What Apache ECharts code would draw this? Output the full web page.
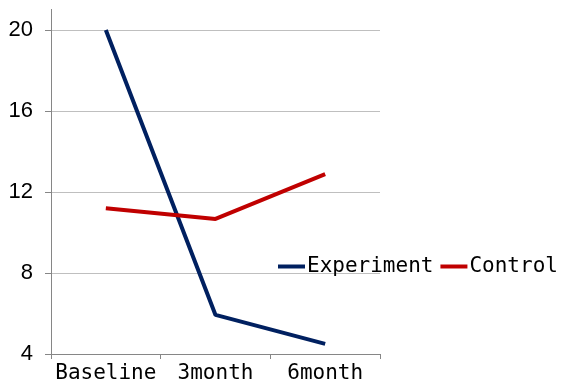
<!DOCTYPE html>
<html><head><meta charset="utf-8">
<script src="https://cdn.jsdelivr.net/npm/echarts@6/dist/echarts.min.js"></script>
<style>html,body{margin:0;padding:0;background:#fff}#c{width:561px;height:386px}</style>
</head><body><div id="c"></div>
<script>
const categories = ['Baseline', '3month', '6month'];
const experiment = [20, 5.93, 4.5];
const control = [11.2, 10.67, 12.88];
const yTicks = [4, 8, 12, 16, 20];

const chart = echarts.init(document.getElementById('c'), null, {renderer: 'canvas'});
chart.setOption({
  animation: false,
  backgroundColor: '#fff',
  grid: {left: 51, right: 181, top: 30, bottom: 32, containLabel: false},
  legend: {
    left: 278, top: 256, width: 400, orient: 'horizontal', padding: 0,
    icon: 'rect', itemWidth: 27, itemHeight: 4, itemGap: 7,
    textStyle: {fontFamily: 'DejaVu Sans Mono', fontSize: 21, color: '#000', padding: [0,0,0,-3]},
    data: ['Experiment', 'Control']
  },
  xAxis: {
    type: 'category', data: categories, boundaryGap: true,
    axisLine: {lineStyle: {color: '#868686', width: 1}},
    axisTick: {show: true, length: 5, lineStyle: {color: '#868686'}},
    axisLabel: {fontFamily: 'DejaVu Sans Mono', fontSize: 21, color: '#000', margin: 9, interval: 0}
  },
  yAxis: {
    type: 'value', min: yTicks[0], max: yTicks[yTicks.length-1], interval: 4,
    axisLine: {show: true, lineStyle: {color: '#868686', width: 1}},
    axisTick: {show: true, length: 6, lineStyle: {color: '#868686'}},
    axisLabel: {fontFamily: 'Liberation Sans', fontSize: 22, color: '#000', margin: 18},
    splitLine: {show: true, lineStyle: {color: '#bfbfbf', width: 1}}
  },
  graphic: [{type: 'line', shape: {x1: 51.5, y1: 9, x2: 51.5, y2: 30}, style: {stroke: '#868686', lineWidth: 1}}],
  series: [
    {name: 'Experiment', type: 'line', data: experiment, showSymbol: false, symbol: 'none',
     lineStyle: {color: '#002060', width: 4}, itemStyle: {color: '#002060'}},
    {name: 'Control', type: 'line', data: control, showSymbol: false, symbol: 'none',
     lineStyle: {color: '#C00000', width: 4}, itemStyle: {color: '#C00000'}}
  ]
});
</script></body></html>
